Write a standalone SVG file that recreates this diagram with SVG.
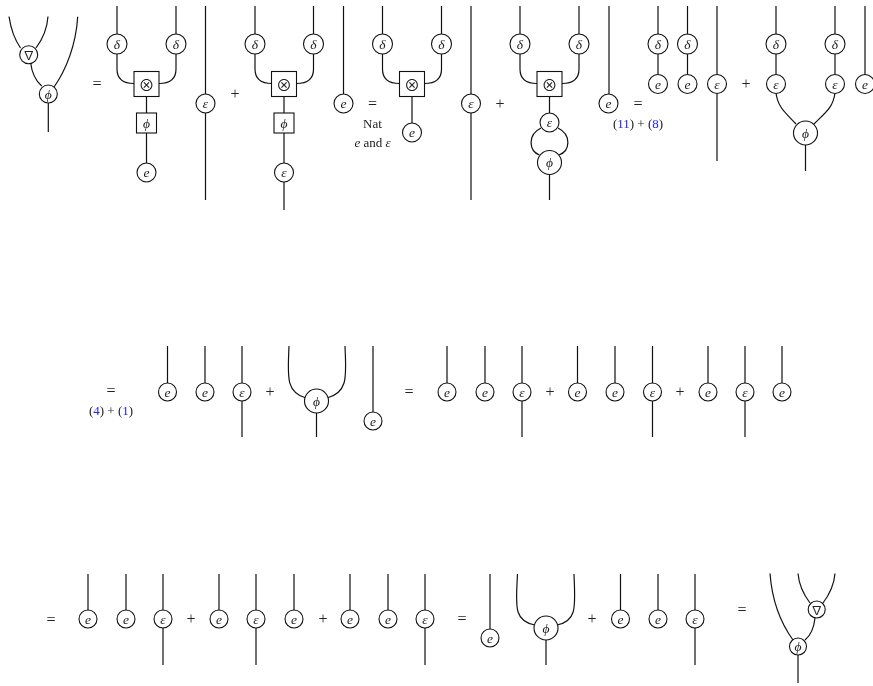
<svg xmlns="http://www.w3.org/2000/svg" width="873" height="686" viewBox="0 0 873 686">
<defs><filter id="s" x="-30%" y="-30%" width="160%" height="160%"><feGaussianBlur stdDeviation="0.25"/></filter></defs>
<style>
.w{fill:none;stroke:#111;stroke-width:1.2}
.n{fill:#fff;stroke:#111;stroke-width:1.1}
text{font-family:"Liberation Serif","Times New Roman",serif;fill:#222;text-anchor:middle;filter:url(#s)}
.g{font-size:13.500px;font-style:italic;dominant-baseline:central}
.o{font-size:16px;dominant-baseline:central}
.t{font-size:13px}
.x{font-family:"Noto Sans CJK JP","DejaVu Sans",sans-serif;font-size:16px;dominant-baseline:central}
.v{font-family:"Noto Sans CJK JP","DejaVu Sans",sans-serif;font-size:12px;dominant-baseline:central}
.b{fill:#22e}
</style>
<rect width="873" height="686" fill="#fff"/>
<g id="connectors" class="w">
<path d="M9 16.500C11 30 15 40 20.500 48M48 16.500C47 30 42 40 36 48M30.700 63C32 74 36 81 41.700 86M77.700 16.700C76 45 66 70 54 87M48.300 103V132"/>
<path d="M117 6V34M117 54V69Q117 83.500 134 83.500M176 6V34M176 54V69Q176 83.500 159 83.500M146.500 96V113M146.500 133V163M205.500 6V200"/>
<path d="M255 6V34M255 54V69Q255 83.500 272 83.500M313.500 6V34M313.500 54V69Q313.500 83.500 296.500 83.500M284 96V113M284 133V163M284 182V210M343.500 6V94"/>
<path d="M382.500 6V34M382.500 54V69Q382.500 83.500 399.500 83.500M441.500 6V34M441.500 54V69Q441.500 83.500 424.500 83.500M412 96V123M471 6V200"/>
<path d="M520 6V34M520 54V69Q520 83.500 537 83.500M579 6V34M579 54V69Q579 83.500 562 83.500M549.500 96V113M541 128C527 135 529 151 539.500 155M558 128C572 135 570 151 559 155M549.500 174V200M609 6V94"/>
<path d="M658 6V74M687.500 6V74M717 6V161"/>
<path d="M776 6V74M835 6V74M776 93C778 108 786 113 796 124M835 93C833 108 825 113 814 124M805.500 145V171M865 6V75"/>
<path d="M167.500 346V383M205 346V383M242 346V437"/>
<path d="M289 346C288 375 285 392 306 398M345 346C346 375 349 392 327 398M316.500 413V437M373 346V412"/>
<path d="M447 346V383M485 346V383M522 346V437M577.500 346V383M615 346V383M652.500 346V437M708 346V383M745 346V437M782 346V383"/>
<path d="M88 574V611M126 574V611M163 574V665M219 574V611M256 574V665M294 574V611M350 574V611M388 574V611M425 574V665"/>
<path d="M490 574V629M517.500 574C516 605 513 621 535 625M574 574C575 605 578 621 557 625M546 640V665M620.500 574V610M658 574V610M695 574V665"/>
<path d="M770 573.500C772 600 780 622 793 640M798 573.500C799 586 804 595 810 603M835 573.500C834 586 829 595 823 603M815 618C814 628 811 635 805 640M798 655V683"/>
</g>
<g id="nabla1"><circle class="n" cx="28.700" cy="54.700" r="9"/><text class="v" x="28.700" y="54.700">∇</text></g>
<g id="phi1"><circle class="n" cx="48.300" cy="94" r="9"/><text class="g" x="48.300" y="94">ϕ</text></g>
<text class="o" x="97" y="83">=</text>
<g id="d1"><circle class="n" cx="117" cy="44" r="10"/><text class="g" x="117" y="44">δ</text></g>
<g id="d2"><circle class="n" cx="176" cy="44" r="10"/><text class="g" x="176" y="44">δ</text></g>
<g id="ot1"><rect class="n" x="134" y="71.500" width="25" height="25"/><text class="x" x="146.500" y="84">⊗</text></g>
<g id="pb1"><rect class="n" x="136.500" y="113" width="20" height="20"/><text class="g" x="146.500" y="123">ϕ</text></g>
<g id="e1"><circle class="n" cx="146.500" cy="172.500" r="9.500"/><text class="g" x="146.500" y="172.500">e</text></g>
<g id="v1"><circle class="n" cx="205.500" cy="103.500" r="9.500"/><text class="g" x="205.500" y="103.500">ε</text></g>
<text class="o" x="235" y="93">+</text>
<g id="d3"><circle class="n" cx="255" cy="44" r="10"/><text class="g" x="255" y="44">δ</text></g>
<g id="d4"><circle class="n" cx="313.500" cy="44" r="10"/><text class="g" x="313.500" y="44">δ</text></g>
<g id="ot2"><rect class="n" x="271.500" y="71.500" width="25" height="25"/><text class="x" x="284" y="84">⊗</text></g>
<g id="pb2"><rect class="n" x="274" y="113" width="20" height="20"/><text class="g" x="284" y="123">ϕ</text></g>
<g id="v2"><circle class="n" cx="284" cy="172.500" r="9.500"/><text class="g" x="284" y="172.500">ε</text></g>
<g id="e2"><circle class="n" cx="343.500" cy="103.500" r="9.500"/><text class="g" x="343.500" y="103.500">e</text></g>
<text class="o" x="372.500" y="103">=</text>
<text class="t" x="372.500" y="128">Nat</text>
<text class="t" x="372.500" y="147"><tspan font-style="italic">e</tspan> and <tspan font-style="italic">ε</tspan></text>
<g id="d5"><circle class="n" cx="382.500" cy="44" r="10"/><text class="g" x="382.500" y="44">δ</text></g>
<g id="d6"><circle class="n" cx="441.500" cy="44" r="10"/><text class="g" x="441.500" y="44">δ</text></g>
<g id="ot3"><rect class="n" x="399.500" y="71.500" width="25" height="25"/><text class="x" x="412" y="84">⊗</text></g>
<g id="e3"><circle class="n" cx="412" cy="132.500" r="9.500"/><text class="g" x="412" y="132.500">e</text></g>
<g id="v3"><circle class="n" cx="471" cy="103.500" r="9.500"/><text class="g" x="471" y="103.500">ε</text></g>
<text class="o" x="500" y="103">+</text>
<g id="d7"><circle class="n" cx="520" cy="44" r="10"/><text class="g" x="520" y="44">δ</text></g>
<g id="d8"><circle class="n" cx="579" cy="44" r="10"/><text class="g" x="579" y="44">δ</text></g>
<g id="ot4"><rect class="n" x="537" y="71.500" width="25" height="25"/><text class="x" x="549.500" y="84">⊗</text></g>
<g id="v4"><circle class="n" cx="549.500" cy="122.500" r="9.500"/><text class="g" x="549.500" y="122.500">ε</text></g>
<g id="p4"><circle class="n" cx="549.500" cy="162.500" r="12"/><text class="g" x="549.500" y="162.500">ϕ</text></g>
<g id="e4"><circle class="n" cx="608.500" cy="103.500" r="9.500"/><text class="g" x="608.500" y="103.500">e</text></g>
<text class="o" x="638" y="103">=</text>
<text class="t" x="638" y="128">(<tspan class="b">11</tspan>) + (<tspan class="b">8</tspan>)</text>
<g id="d9"><circle class="n" cx="658" cy="44" r="10"/><text class="g" x="658" y="44">δ</text></g>
<g id="d10"><circle class="n" cx="687.500" cy="44" r="10"/><text class="g" x="687.500" y="44">δ</text></g>
<g id="e5"><circle class="n" cx="658" cy="84" r="9.500"/><text class="g" x="658" y="84">e</text></g>
<g id="e6"><circle class="n" cx="687.500" cy="84" r="9.500"/><text class="g" x="687.500" y="84">e</text></g>
<g id="v5"><circle class="n" cx="717" cy="84" r="9.500"/><text class="g" x="717" y="84">ε</text></g>
<text class="o" x="746" y="83">+</text>
<g id="d11"><circle class="n" cx="776" cy="44" r="10"/><text class="g" x="776" y="44">δ</text></g>
<g id="d12"><circle class="n" cx="835" cy="44" r="10"/><text class="g" x="835" y="44">δ</text></g>
<g id="v6"><circle class="n" cx="776" cy="84" r="9.500"/><text class="g" x="776" y="84">ε</text></g>
<g id="v7"><circle class="n" cx="835" cy="84" r="9.500"/><text class="g" x="835" y="84">ε</text></g>
<g id="p5"><circle class="n" cx="805.500" cy="133" r="12"/><text class="g" x="805.500" y="133">ϕ</text></g>
<g id="e7"><circle class="n" cx="865" cy="84" r="9.500"/><text class="g" x="865" y="84">e</text></g>
<text class="o" x="111" y="390">=</text>
<text class="t" x="111" y="415">(<tspan class="b">4</tspan>) + (<tspan class="b">1</tspan>)</text>
<g id="r2a"><circle class="n" cx="167.500" cy="392" r="9"/><text class="g" x="167.500" y="392">e</text></g>
<g id="r2b"><circle class="n" cx="205" cy="392" r="9"/><text class="g" x="205" y="392">e</text></g>
<g id="r2c"><circle class="n" cx="242" cy="392" r="9"/><text class="g" x="242" y="392">ε</text></g>
<text class="o" x="270" y="391">+</text>
<g id="r2d"><circle class="n" cx="316.500" cy="401" r="12"/><text class="g" x="316.500" y="401">ϕ</text></g>
<g id="r2e"><circle class="n" cx="373" cy="421" r="9"/><text class="g" x="373" y="421">e</text></g>
<text class="o" x="409" y="391">=</text>
<g id="r2f"><circle class="n" cx="447" cy="392" r="9"/><text class="g" x="447" y="392">e</text></g>
<g id="r2g"><circle class="n" cx="485" cy="392" r="9"/><text class="g" x="485" y="392">e</text></g>
<g id="r2h"><circle class="n" cx="522" cy="392" r="9"/><text class="g" x="522" y="392">ε</text></g>
<text class="o" x="550" y="391">+</text>
<g id="r2i"><circle class="n" cx="577.500" cy="392" r="9"/><text class="g" x="577.500" y="392">e</text></g>
<g id="r2j"><circle class="n" cx="615" cy="392" r="9"/><text class="g" x="615" y="392">e</text></g>
<g id="r2k"><circle class="n" cx="652.500" cy="392" r="9"/><text class="g" x="652.500" y="392">ε</text></g>
<text class="o" x="680" y="391">+</text>
<g id="r2l"><circle class="n" cx="708" cy="392" r="9"/><text class="g" x="708" y="392">e</text></g>
<g id="r2m"><circle class="n" cx="745" cy="392" r="9"/><text class="g" x="745" y="392">ε</text></g>
<g id="r2n"><circle class="n" cx="782" cy="392" r="9"/><text class="g" x="782" y="392">e</text></g>
<text class="o" x="51" y="619">=</text>
<g id="r3a"><circle class="n" cx="88" cy="619" r="9"/><text class="g" x="88" y="619">e</text></g>
<g id="r3b"><circle class="n" cx="126" cy="619" r="9"/><text class="g" x="126" y="619">e</text></g>
<g id="r3c"><circle class="n" cx="163" cy="619" r="9"/><text class="g" x="163" y="619">ε</text></g>
<text class="o" x="191" y="618">+</text>
<g id="r3d"><circle class="n" cx="219" cy="619" r="9"/><text class="g" x="219" y="619">e</text></g>
<g id="r3e"><circle class="n" cx="256" cy="619" r="9"/><text class="g" x="256" y="619">ε</text></g>
<g id="r3f"><circle class="n" cx="294" cy="619" r="9"/><text class="g" x="294" y="619">e</text></g>
<text class="o" x="323" y="618">+</text>
<g id="r3g"><circle class="n" cx="350" cy="619" r="9"/><text class="g" x="350" y="619">e</text></g>
<g id="r3h"><circle class="n" cx="388" cy="619" r="9"/><text class="g" x="388" y="619">e</text></g>
<g id="r3i"><circle class="n" cx="425" cy="619" r="9"/><text class="g" x="425" y="619">ε</text></g>
<text class="o" x="462" y="618">=</text>
<g id="r3j"><circle class="n" cx="490" cy="638" r="9"/><text class="g" x="490" y="638">e</text></g>
<g id="r3k"><circle class="n" cx="546" cy="628" r="12"/><text class="g" x="546" y="628">ϕ</text></g>
<text class="o" x="592" y="618">+</text>
<g id="r3l"><circle class="n" cx="620.500" cy="619" r="9"/><text class="g" x="620.500" y="619">e</text></g>
<g id="r3m"><circle class="n" cx="658" cy="619" r="9"/><text class="g" x="658" y="619">e</text></g>
<g id="r3n"><circle class="n" cx="695" cy="619" r="9"/><text class="g" x="695" y="619">ε</text></g>
<text class="o" x="742" y="609">=</text>
<g id="nabla2"><circle class="n" cx="816.700" cy="609.500" r="8.500"/><text class="v" x="816.700" y="609.500">∇</text></g>
<g id="phi2"><circle class="n" cx="798" cy="646.500" r="8.500"/><text class="g" x="798" y="646.500">ϕ</text></g>
</svg>
